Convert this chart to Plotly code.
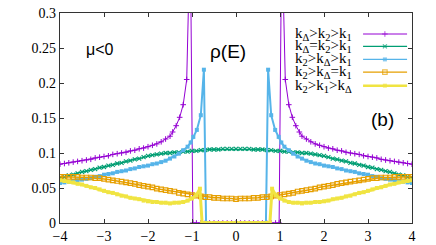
import plotly.graph_objects as go

# ---------------- data ----------------
energy_grid = [round(-4 + 0.1 * i, 1) for i in range(81)]

# k_Delta = k2 > k1 (green)
rho_green = [0.064, 0.066, 0.068, 0.069, 0.071, 0.073, 0.074, 0.076, 0.077, 0.079,
             0.080, 0.082, 0.083, 0.085, 0.086, 0.088, 0.089, 0.091, 0.092, 0.094,
             0.096, 0.097, 0.098, 0.099, 0.100, 0.100, 0.101, 0.101, 0.102, 0.102,
             0.103, 0.103, 0.104, 0.104, 0.105, 0.105, 0.105, 0.106, 0.106, 0.106,
             0.106,
             0.106, 0.106, 0.106, 0.105, 0.105, 0.105, 0.104, 0.104, 0.103, 0.103,
             0.102, 0.102, 0.101, 0.101, 0.100, 0.100, 0.099, 0.098, 0.097, 0.096,
             0.094, 0.092, 0.091, 0.089, 0.088, 0.086, 0.085, 0.083, 0.082, 0.080,
             0.079, 0.077, 0.076, 0.074, 0.073, 0.071, 0.069, 0.068, 0.066, 0.064]

# k2 > k_Delta = k1 (orange)
rho_orange = [0.066, 0.066, 0.066, 0.066, 0.066, 0.065, 0.065, 0.065, 0.064, 0.064,
              0.063, 0.062, 0.061, 0.060, 0.059, 0.058, 0.057, 0.056, 0.054, 0.053,
              0.052, 0.051, 0.049, 0.048, 0.047, 0.046, 0.045, 0.043, 0.042, 0.041,
              0.040, 0.039, 0.038, 0.037, 0.037, 0.036, 0.036, 0.035, 0.035, 0.035,
              0.034,
              0.035, 0.035, 0.035, 0.036, 0.036, 0.037, 0.037, 0.038, 0.039, 0.040,
              0.041, 0.042, 0.043, 0.045, 0.046, 0.047, 0.048, 0.049, 0.051, 0.052,
              0.053, 0.054, 0.056, 0.057, 0.058, 0.059, 0.060, 0.061, 0.062, 0.063,
              0.064, 0.064, 0.065, 0.065, 0.065, 0.066, 0.066, 0.066, 0.066, 0.066]

# k_Delta > k2 > k1 (purple)
e_purple = ([round(-4 + 0.1 * i, 1) for i in range(26)]
            + [-1.44, -1.36, -1.28, -1.20, -1.12, -1.04, -0.98]
            + [round(-0.9 + 0.1 * i, 1) for i in range(19)]
            + [0.98, 1.04, 1.12, 1.20, 1.28, 1.36, 1.44]
            + [round(1.5 + 0.1 * i, 1) for i in range(26)])
rho_purple = ([0.084, 0.085, 0.086, 0.087, 0.088, 0.089, 0.090, 0.091, 0.093, 0.094,
               0.095, 0.096, 0.098, 0.099, 0.100, 0.101, 0.103, 0.104, 0.106, 0.107,
               0.109, 0.111, 0.113, 0.116, 0.120, 0.124]
              + [0.130, 0.139, 0.151, 0.169, 0.205, 0.420, 0.0]
              + [0.0] * 19
              + [0.0, 0.420, 0.205, 0.169, 0.151, 0.139, 0.130]
              + [0.124, 0.120, 0.116, 0.113, 0.111, 0.109,
                 0.107, 0.106, 0.104, 0.103, 0.101, 0.100, 0.099, 0.098, 0.096, 0.095,
                 0.094, 0.093, 0.091, 0.090, 0.089, 0.088, 0.087, 0.086, 0.085, 0.084])

# k2 > k_Delta > k1 (blue)
e_blue = ([round(-4 + 0.1 * i, 1) for i in range(30)]
          + [-1.03, -0.97, -0.89, -0.80, -0.73, -0.68, -0.4, 0.0, 0.4, 0.68, 0.73, 0.80, 0.89, 0.97, 1.03]
          + [round(1.1 + 0.1 * i, 1) for i in range(30)])
rho_blue = ([0.057, 0.058, 0.059, 0.060, 0.061, 0.062, 0.063, 0.064, 0.066, 0.067,
             0.069, 0.070, 0.071, 0.073, 0.074, 0.075, 0.077, 0.078, 0.080, 0.081,
             0.082, 0.084, 0.085, 0.087, 0.089, 0.092, 0.095, 0.099, 0.104, 0.109]
            + [0.115, 0.123, 0.133, 0.154, 0.219, 0.0, 0.0, 0.0, 0.0, 0.0, 0.219, 0.154, 0.133, 0.123, 0.115]
            + [0.109, 0.104, 0.099, 0.095, 0.092, 0.089, 0.087, 0.085, 0.084, 0.082,
               0.081, 0.080, 0.078, 0.077, 0.075, 0.074, 0.073, 0.071, 0.070, 0.069,
               0.067, 0.066, 0.064, 0.063, 0.062, 0.061, 0.060, 0.059, 0.058, 0.057])

# k2 > k1 > k_Delta (yellow)
e_yellow = ([round(-4 + 0.1 * i, 1) for i in range(31)]
            + [-0.9, -0.82, -0.77]
            + [round(-0.7 + 0.1 * i, 1) for i in range(15)]
            + [0.77, 0.82, 0.9]
            + [round(1.0 + 0.1 * i, 1) for i in range(31)])
rho_yellow = ([0.061, 0.060, 0.059, 0.058, 0.056, 0.055, 0.053, 0.051, 0.050, 0.048,
               0.046, 0.044, 0.043, 0.041, 0.039, 0.038, 0.036, 0.035, 0.034, 0.032,
               0.031, 0.030, 0.030, 0.029, 0.029, 0.028, 0.029, 0.029, 0.030, 0.032,
               0.035]
              + [0.040, 0.049, 0.0]
              + [0.0] * 15
              + [0.0, 0.049, 0.040]
              + [0.035,
                 0.032, 0.030, 0.029, 0.029, 0.028, 0.029, 0.029, 0.030, 0.030, 0.031,
                 0.032, 0.034, 0.035, 0.036, 0.038, 0.039, 0.041, 0.043, 0.044, 0.046,
                 0.048, 0.050, 0.051, 0.053, 0.055, 0.056, 0.058, 0.059, 0.060, 0.061])

series_labels = ["k<sub>Δ</sub>>k<sub>2</sub>>k<sub>1</sub>",
                 "k<sub>Δ</sub>=k<sub>2</sub>>k<sub>1</sub>",
                 "k<sub>2</sub>>k<sub>Δ</sub>>k<sub>1</sub>",
                 "k<sub>2</sub>>k<sub>Δ</sub>=k<sub>1</sub>",
                 "k<sub>2</sub>>k<sub>1</sub>>k<sub>Δ</sub>"]
x_ticks = [-4, -3, -2, -1, 0, 1, 2, 3, 4]
y_ticks = [0, 0.05, 0.1, 0.15, 0.2, 0.25, 0.3]
y_tick_text = ["0", "0.05", "0.1", "0.15", "0.2", "0.25", "0.3"]

# ---------------- styles ----------------
colors = ["#9400d3", "#009e73", "#56b4e9", "#e69f00", "#f0e442"]
symbols = ["cross-thin", "x-thin", "square", "square-open", "square"]
msizes = [4, 4, 4, 4.5, 4]
lwidths = [1.0, 1.5, 2.0, 1.5, 3.0]
mlw = [1.0, 1.2, 0, 1.2, 0]

series = [(e_purple, rho_purple), (energy_grid, rho_green), (e_blue, rho_blue),
          (energy_grid, rho_orange), (e_yellow, rho_yellow)]

fig = go.Figure()
for i, (xs, ys) in enumerate(series):
    fig.add_trace(go.Scatter(
        x=xs, y=ys, mode="lines+markers", showlegend=False,
        line=dict(color=colors[i], width=lwidths[i]),
        marker=dict(symbol=symbols[i], size=msizes[i], color=colors[i],
                    line=dict(color=colors[i], width=mlw[i])),
    ))

# manual gnuplot-style key (text left, sample right) on an overlay unit axis
key_y = [0.90, 0.841, 0.779, 0.718, 0.654]
key_lw = [1.0, 1.2, 1.2, 1.2, 2.5]
for i in range(5):
    fig.add_trace(go.Scatter(
        x=[0.861, 0.923, 0.986], y=[key_y[i]] * 3, xaxis="x2", yaxis="y2",
        mode="lines+markers", showlegend=False, hoverinfo="skip",
        line=dict(color=colors[i], width=key_lw[i]),
        marker=dict(symbol=symbols[i], size=[0, msizes[i], 0], color=colors[i],
                    line=dict(color=colors[i], width=mlw[i])),
    ))
    fig.add_annotation(text=series_labels[i], xref="paper", yref="paper",
                       x=0.835, y=key_y[i], xanchor="right", yanchor="middle",
                       showarrow=False,
                       font=dict(family="Liberation Serif", size=15, color="black"))

fig.add_annotation(text="μ&lt;0", xref="paper", yref="paper", x=0.114, y=0.824,
                   xanchor="center", yanchor="middle",
                   showarrow=False, font=dict(family="Liberation Sans", size=16, color="black"))
fig.add_annotation(text="ρ(E)", xref="paper", yref="paper", x=0.476, y=0.819,
                   xanchor="center", yanchor="middle",
                   showarrow=False, font=dict(family="Liberation Sans", size=19, color="black"))
fig.add_annotation(text="(b)", xref="paper", yref="paper", x=0.916, y=0.495,
                   xanchor="center", yanchor="middle",
                   showarrow=False, font=dict(family="Liberation Sans", size=19, color="black"))

axis_common = dict(showgrid=False, zeroline=False, showline=True, linecolor="#333333",
                   linewidth=1.2, mirror="ticks", ticks="inside", ticklen=4,
                   tickcolor="#333333", automargin=False,
                   tickfont=dict(family="Liberation Serif", size=14, color="black"))

fig.update_layout(
    width=436, height=245,
    margin=dict(l=60, r=24, t=13, b=22),
    paper_bgcolor="white", plot_bgcolor="white",
    xaxis=dict(range=[-4, 4], tickvals=x_ticks, **axis_common),
    yaxis=dict(range=[0, 0.3], tickvals=y_ticks, ticktext=y_tick_text, **axis_common),
    xaxis2=dict(range=[0, 1], overlaying="x", visible=False, automargin=False),
    yaxis2=dict(range=[0, 1], overlaying="y", visible=False, automargin=False),
)

fig.write_html("out.html", config={"displayModeBar": False},
               post_script="document.body.style.margin='0';document.body.style.overflow='hidden';")
